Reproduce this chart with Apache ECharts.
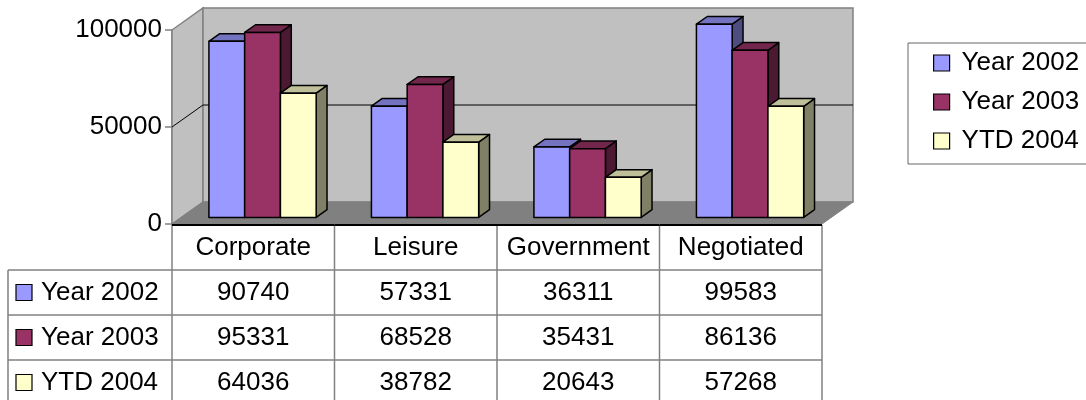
<!DOCTYPE html>
<html>
<head>
<meta charset="utf-8">
<script src="https://cdn.jsdelivr.net/npm/echarts@6/dist/echarts.min.js"></script>
<style>
html, body { margin: 0; padding: 0; background: #fff; }
#main { width: 1086px; height: 400px; }
</style>
</head>
<body>
<div id="main"></div>
<script>
var categories = ['Corporate', 'Leisure', 'Government', 'Negotiated'];
var seriesNames = ['Year 2002', 'Year 2003', 'YTD 2004'];
var year2002 = [90740, 57331, 36311, 99583];
var year2003 = [95331, 68528, 35431, 86136];
var ytd2004 = [64036, 38782, 20643, 57268];
var yTicks = [0, 50000, 100000];

var seriesValues = [year2002, year2003, ytd2004];
var colors = ['#9999FF', '#993366', '#FFFFCC'];
var topColors = ['#7373BF', '#73264C', '#BFBF99'];
var sideColors = ['#4D4D80', '#4C1933', '#808066'];

var FONT_FAMILY = '"Liberation Sans", Arial, sans-serif';
var FONT_SIZE = 26;
var FONT = FONT_SIZE + 'px ' + FONT_FAMILY;
var DX = 31, DY = -22;   // depth of the 3d box
var ROW_H = 45;          // data table row height

var myChart = echarts.init(document.getElementById('main'));

function line(x1, y1, x2, y2, color, width) {
    return {
        type: 'line',
        shape: { x1: x1, y1: y1, x2: x2, y2: y2 },
        style: { stroke: color || '#808080', lineWidth: width || 1.5 }
    };
}

function label(text, x, y, align) {
    return {
        type: 'text',
        style: {
            text: text, x: x, y: y, font: FONT, fill: '#000',
            align: align || 'center', verticalAlign: 'middle'
        }
    };
}

// walls, floor and gridlines of the 3d box
function renderFrame(params, api) {
    var cs = params.coordSys;
    var x0 = cs.x, x1 = cs.x + cs.width;
    var yt = cs.y, yb = cs.y + cs.height;
    var ch = [];
    ch.push({
        type: 'polygon',
        shape: { points: [[x0, yt], [x0 + DX, yt + DY], [x0 + DX, yb + DY], [x0, yb]] },
        style: { fill: '#C0C0C0', stroke: '#808080', lineWidth: 1.5 }
    });
    ch.push({
        type: 'polygon',
        shape: { points: [[x0 + DX, yt + DY], [x1 + DX, yt + DY], [x1 + DX, yb + DY], [x0 + DX, yb + DY]] },
        style: { fill: '#C0C0C0', stroke: '#808080', lineWidth: 1.5 }
    });
    yTicks.forEach(function (v, k) {
        if (k === 0 || k === yTicks.length - 1) return;
        var y = api.coord([0, v])[1];
        ch.push({
            type: 'polyline',
            shape: { points: [[x0, y], [x0 + DX, y + DY], [x1 + DX, y + DY]] },
            style: { stroke: '#000', lineWidth: 1, fill: null }
        });
    });
    ch.push({
        type: 'polygon',
        shape: { points: [[x0, yb], [x0 + DX, yb + DY], [x1 + DX, yb + DY], [x1, yb]] },
        style: { fill: '#808080', stroke: '#808080', lineWidth: 1 }
    });
    return { type: 'group', children: ch };
}

function makeBarRenderer(s) {
    return function (params, api) {
        var i = api.value(0);
        var band = api.size([1, 0])[0];
        var w = band * 0.22;
        var base = api.coord([i, 0]);
        var top = api.coord([i, api.value(1)]);
        var fx = base[0] + DX * 0.3 + (s - 1) * w - w / 2;
        var by = base[1] + DY * 0.3;
        var ty = top[1] + DY * 0.3;
        var dx = DX * 0.35, dy = DY * 0.35;
        var st = { stroke: '#000', lineWidth: 1.5, lineJoin: 'round' };
        return {
            type: 'group',
            children: [
                {
                    type: 'polygon',
                    shape: { points: [[fx + w, ty], [fx + w + dx, ty + dy], [fx + w + dx, by + dy], [fx + w, by]] },
                    style: Object.assign({ fill: sideColors[s] }, st)
                },
                {
                    type: 'polygon',
                    shape: { points: [[fx, ty], [fx + dx, ty + dy], [fx + w + dx, ty + dy], [fx + w, ty]] },
                    style: Object.assign({ fill: topColors[s] }, st)
                },
                {
                    type: 'rect',
                    shape: { x: fx, y: ty, width: w, height: by - ty },
                    style: Object.assign({ fill: colors[s] }, st)
                }
            ]
        };
    };
}

// data table under the plot, one column per category
function renderTable(params, api) {
    var i = api.value(0);
    var band = api.size([1, 0])[0];
    var cx = api.coord([i, 0])[0];
    var yb = params.coordSys.y + params.coordSys.height + 1;
    var left = cx - band / 2, right = cx + band / 2;
    var ch = [];
    ch.push(label(categories[i], cx, yb + ROW_H / 2));
    seriesValues.forEach(function (vals, s) {
        ch.push(line(left, yb + ROW_H * (s + 1), right, yb + ROW_H * (s + 1)));
        ch.push(label(String(vals[i]), cx, yb + ROW_H * (s + 1.5)));
    });
    ch.push(line(right, yb, right, 420));
    if (i === 0) {
        var lx = left - 164;
        ch.push(line(left, yb, left, 420));
        ch.push(line(lx, yb + ROW_H, lx, 420));
        seriesNames.forEach(function (name, s) {
            var ry = yb + ROW_H * (s + 1.5);
            ch.push(line(lx, yb + ROW_H * (s + 1), left, yb + ROW_H * (s + 1)));
            ch.push({
                type: 'rect',
                shape: { x: lx + 8, y: ry - 8, width: 16, height: 16 },
                style: { fill: colors[s], stroke: '#000', lineWidth: 1.2 }
            });
            ch.push(label(name, lx + 33, ry, 'left'));
        });
    }
    ch.push(line(left, yb, right, yb, '#000', 2));
    return { type: 'group', children: ch };
}

var series = [{
    type: 'custom',
    name: 'frame',
    renderItem: renderFrame,
    data: [[0, 0]],
    silent: true,
    z: 1
}];
seriesNames.forEach(function (name, s) {
    series.push({
        type: 'custom',
        name: name,
        renderItem: makeBarRenderer(s),
        itemStyle: { color: colors[s] },
        data: seriesValues[s].map(function (v, i) { return [i, v]; }),
        z: 3
    });
});
series.push({
    type: 'custom',
    name: 'table',
    renderItem: renderTable,
    data: categories.map(function (c, i) { return [i, 0]; }),
    silent: true,
    z: 4
});

option = {
    animation: false,
    color: colors,
    grid: {
        left: 172,
        top: 30,
        width: 650,
        height: 194
    },
    legend: {
        orient: 'vertical',
        left: 908,
        top: 43,
        data: seriesNames,
        icon: 'rect',
        itemWidth: 16,
        itemHeight: 16,
        itemGap: 13,
        padding: [7, 20, 10, 25],
        borderColor: '#666',
        borderWidth: 1,
        itemStyle: { borderColor: '#000', borderWidth: 1.2 },
        textStyle: {
            fontSize: FONT_SIZE,
            fontFamily: FONT_FAMILY,
            color: '#000',
            lineHeight: 26,
            padding: [0, 0, 0, 7]
        }
    },
    xAxis: {
        type: 'category',
        data: categories,
        axisLine: { show: false },
        axisTick: { show: false },
        axisLabel: { show: false },
        splitLine: { show: false }
    },
    yAxis: {
        type: 'value',
        min: 0,
        max: 100000,
        interval: 50000,
        axisLine: { show: true, lineStyle: { color: '#808080', width: 1.5 } },
        axisTick: { show: true, length: 7, lineStyle: { color: '#808080', width: 1.5 } },
        axisLabel: {
            fontSize: FONT_SIZE,
            fontFamily: FONT_FAMILY,
            color: '#000',
            margin: 10,
            formatter: function (v) { return String(v); }
        },
        splitLine: { show: false }
    },
    series: series
};

myChart.setOption(option);
</script>
</body>
</html>
